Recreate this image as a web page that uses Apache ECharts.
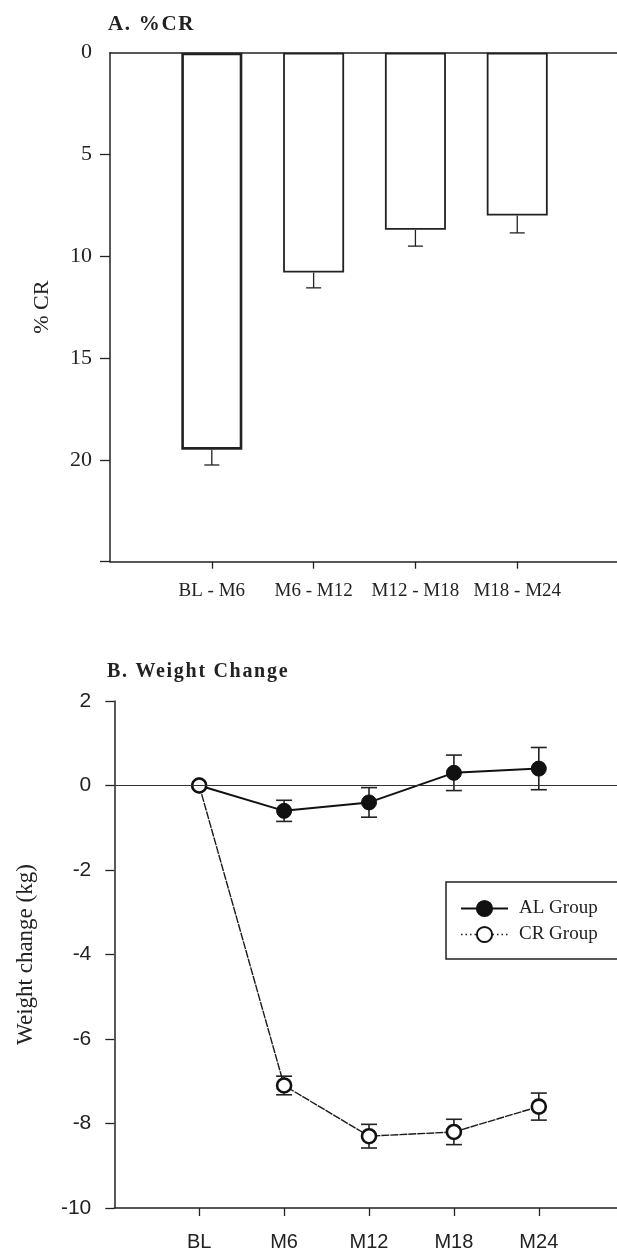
<!DOCTYPE html>
<html>
<head>
<meta charset="utf-8">
<script src="https://cdn.jsdelivr.net/npm/echarts@6/dist/echarts.min.js"></script>
<style>
html,body{margin:0;padding:0;background:#fff;}
#chart{width:617px;height:1252px;}
</style>
</head>
<body>
<div id="chart"></div>
<script>
// ---- Panel A data ----
const barCategories = ['BL - M6', 'M6 - M12', 'M12 - M18', 'M18 - M24'];
const crPercent = [19.5, 10.8, 8.7, 8.0];
const crPercentErr = [0.75, 0.75, 0.8, 0.85];
const crTickLabels = [0, 5, 10, 15, 20];
const crTickMarks = [5, 10, 15, 20, 25];

// ---- Panel B data ----
const timepoints = ['BL', 'M6', 'M12', 'M18', 'M24'];
const alWeight = [0, -0.6, -0.4, 0.3, 0.4];
const alErr = [0, 0.25, 0.35, 0.42, 0.5];
const crWeight = [0, -7.1, -8.3, -8.2, -7.6];
const crErr = [0, 0.22, 0.28, 0.3, 0.32];
const weightTicks = [-10, -8, -6, -4, -2, 0, 2];

const SERIF = "'Liberation Serif','Times New Roman',serif";
const SANS = "'Liberation Sans',Arial,sans-serif";
const INK = '#222';

// the panel titles in the original are letter-spaced bold serif
(function () {
  const proto = CanvasRenderingContext2D.prototype;
  const orig = proto.fillText;
  proto.fillText = function () {
    if ('letterSpacing' in this && /bold/.test(this.font)) {
      const prev = this.letterSpacing;
      this.letterSpacing = '1.7px';
      orig.apply(this, arguments);
      this.letterSpacing = prev;
      return;
    }
    return orig.apply(this, arguments);
  };
})();

const chart = echarts.init(document.getElementById('chart'), null, {renderer: 'canvas'});

function errRender(oneSided, capHalf, lw) {
  return function (params, api) {
    const x = api.value(0), v = api.value(1), e = api.value(2);
    if (!e) return null;
    const hi = api.coord([x, v + e]);
    const lo = oneSided ? api.coord([x, v]) : api.coord([x, v - e]);
    const style = {stroke: INK, lineWidth: lw};
    const children = [
      {type: 'line', shape: {x1: lo[0], y1: lo[1], x2: hi[0], y2: hi[1]}, style: style},
      {type: 'line', shape: {x1: hi[0] - capHalf, y1: hi[1], x2: hi[0] + capHalf, y2: hi[1]}, style: style}
    ];
    if (!oneSided) {
      children.push({type: 'line', shape: {x1: lo[0] - capHalf, y1: lo[1], x2: lo[0] + capHalf, y2: lo[1]}, style: style});
    }
    return {type: 'group', children: children};
  };
}

const barData = crPercent.map((v, i) => ({
  value: [i + 1, v],
  itemStyle: {borderWidth: i === 0 ? 2.6 : 1.8}
}));

const option = {
  animation: false,
  backgroundColor: '#fff',
  title: [
    {text: 'A. %CR', left: 108, top: 14, padding: 0,
     textStyle: {fontFamily: SERIF, fontWeight: 'bold', fontSize: 21, color: INK}},
    {text: 'B. Weight Change', left: 107, top: 661.5, padding: 0,
     textStyle: {fontFamily: SERIF, fontWeight: 'bold', fontSize: 20, color: INK}}
  ],
  legend: {
    data: [
      {name: 'AL Group'},
      {name: 'CR Group', lineStyle: {type: [1.5, 3], width: 1.6, color: INK}}
    ],
    orient: 'vertical',
    left: 446, top: 882,
    borderColor: INK, borderWidth: 1.5,
    padding: [17, 40, 15, 14],
    itemGap: 7,
    itemWidth: 47, itemHeight: 19,
    textStyle: {fontFamily: SERIF, fontSize: 19, color: INK, padding: [0, 0, 0, 6]}
  },
  grid: [
    {left: 110, top: 52.7, right: 0, height: 509},
    {left: 114.3, top: 701, right: 0, height: 507.7}
  ],
  xAxis: [
    {type: 'value', gridIndex: 0, min: 0, max: 4.98, interval: 1,
     axisLine: {onZero: false, lineStyle: {color: INK, width: 1.5}},
     axisTick: {length: 7, customValues: [1, 2, 3, 4], lineStyle: {color: INK, width: 1.3}},
     axisLabel: {customValues: [1, 2, 3, 4], margin: 20,
       formatter: v => barCategories[v - 1] || '',
       fontFamily: SERIF, fontSize: 19, color: INK},
     splitLine: {show: false}},
    {type: 'value', gridIndex: 1, min: 0, max: 5.921, interval: 1,
     axisLine: {onZero: false, lineStyle: {color: INK, width: 1.5}},
     axisTick: {length: 8, customValues: [1, 2, 3, 4, 5], lineStyle: {color: INK, width: 1.3}},
     axisLabel: {customValues: [1, 2, 3, 4, 5], margin: 24,
       formatter: v => timepoints[v - 1] || '',
       fontFamily: SANS, fontSize: 20, color: INK},
     splitLine: {show: false}},
    {type: 'value', gridIndex: 0, position: 'top', min: 0, max: 4.98,
     axisLine: {show: true, onZero: false, lineStyle: {color: INK, width: 1.5}},
     axisTick: {show: false}, axisLabel: {show: false}, splitLine: {show: false}}
  ],
  yAxis: [
    {type: 'value', gridIndex: 0, min: 0, max: 25, interval: 5, inverse: true,
     name: '% CR', nameLocation: 'middle', nameGap: 57,
     nameTextStyle: {fontFamily: SERIF, fontSize: 22, color: INK},
     axisLine: {show: true, onZero: false, lineStyle: {color: INK, width: 1.5}},
     axisTick: {show: true, length: 10, customValues: crTickMarks, lineStyle: {color: INK, width: 1.3}},
     axisLabel: {customValues: crTickLabels, margin: 18,
       formatter: v => (crTickLabels.indexOf(v) >= 0 ? String(v) : ''),
       fontFamily: SERIF, fontSize: 22, color: INK},
     splitLine: {show: false}},
    {type: 'value', gridIndex: 1, min: -10, max: 2, interval: 2,
     name: 'Weight change (kg)', nameLocation: 'middle', nameGap: 77,
     nameTextStyle: {fontFamily: SERIF, fontSize: 23, color: INK},
     axisLine: {show: true, onZero: false, lineStyle: {color: INK, width: 1.5}},
     axisTick: {show: true, length: 9, customValues: weightTicks, lineStyle: {color: INK, width: 1.3}},
     axisLabel: {margin: 23, fontFamily: SANS, fontSize: 21, color: INK},
     splitLine: {show: false}}
  ],
  series: [
    {type: 'bar', xAxisIndex: 0, yAxisIndex: 0, barWidth: 61,
     data: barData,
     itemStyle: {color: '#fff', borderColor: INK},
     z: 2},
    {type: 'custom', xAxisIndex: 0, yAxisIndex: 0,
     renderItem: errRender(true, 7.5, 1.3),
     data: crPercent.map((v, i) => [i + 1, v, crPercentErr[i]]),
     z: 1, silent: true},
    {type: 'custom', name: 'AL err', xAxisIndex: 1, yAxisIndex: 1,
     renderItem: errRender(false, 8, 1.6),
     data: alWeight.map((v, i) => [i + 1, v, alErr[i]]),
     z: 1, silent: true},
    {type: 'custom', name: 'CR err', xAxisIndex: 1, yAxisIndex: 1,
     renderItem: errRender(false, 8, 1.6),
     data: crWeight.map((v, i) => [i + 1, v, crErr[i]]),
     z: 1, silent: true},
    {type: 'line', name: 'AL Group', xAxisIndex: 1, yAxisIndex: 1,
     data: alWeight.map((v, i) => [i + 1, v]),
     symbol: 'circle', symbolSize: 15,
     itemStyle: {color: '#111', borderColor: '#111', borderWidth: 1},
     lineStyle: {color: '#111', width: 2},
     markLine: {silent: true, symbol: ['none', 'none'], label: {show: false},
       lineStyle: {color: '#333', width: 1.2, type: 'solid'},
       data: [{yAxis: 0}]},
     z: 3},
    {type: 'line', name: 'CR Group', xAxisIndex: 1, yAxisIndex: 1,
     data: crWeight.map((v, i) => [i + 1, v]),
     symbol: 'circle', symbolSize: 14,
     itemStyle: {color: '#fff', borderColor: '#111', borderWidth: 2.6},
     lineStyle: {color: '#1a1a1a', width: 1.4, type: [8, 1]},
     z: 4}
  ]
};
chart.setOption(option);
</script>
</body>
</html>
